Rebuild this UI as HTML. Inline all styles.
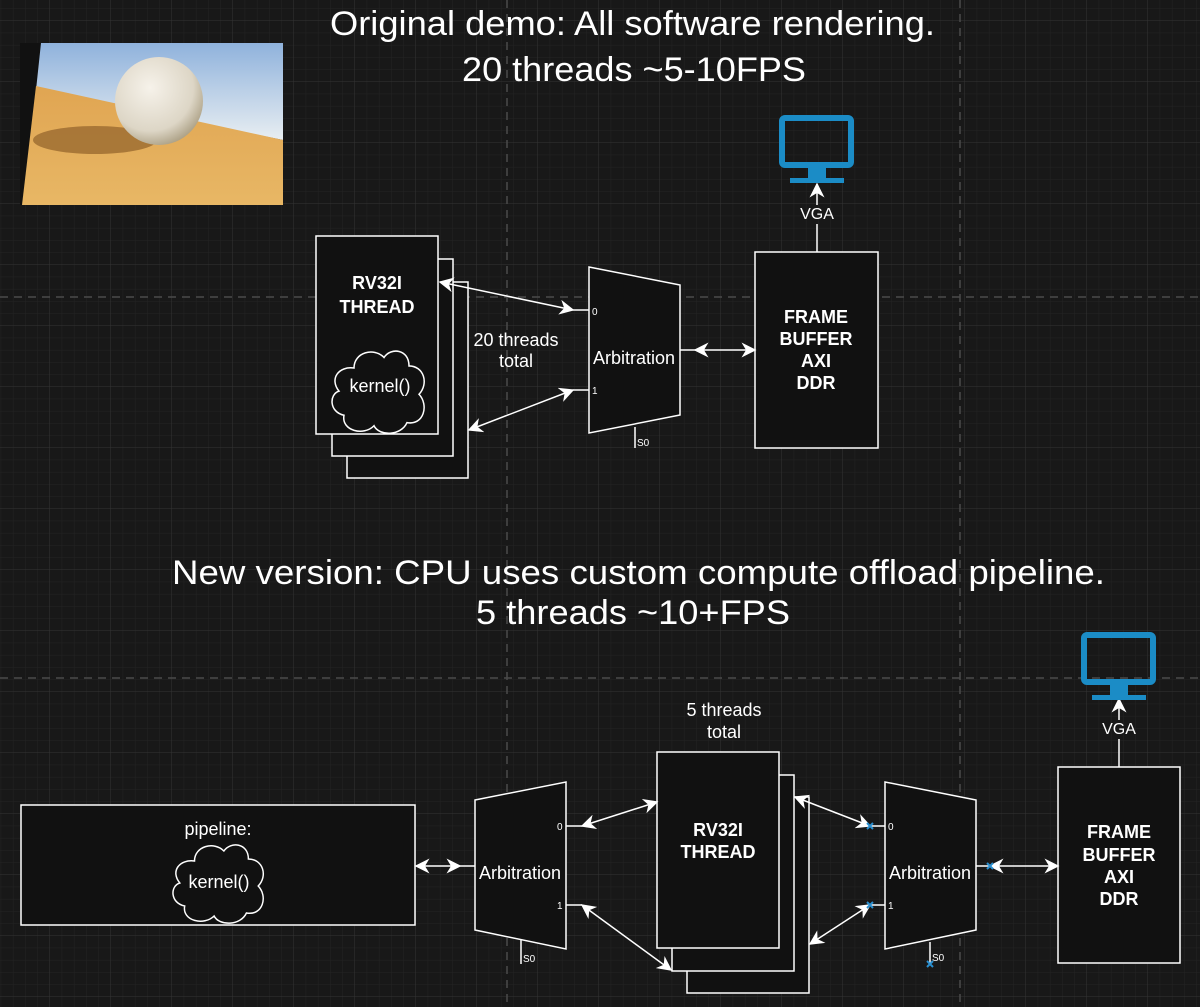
<!DOCTYPE html>
<html><head><meta charset="utf-8"><style>
html,body{margin:0;padding:0;background:#181818;}
svg{display:block;}
text{font-family:"Liberation Sans",Arial,sans-serif;fill:#fff;}
</style></head><body>
<svg width="1200" height="1007" viewBox="0 0 1200 1007" xmlns="http://www.w3.org/2000/svg">
<defs>
<pattern id="minor" width="12.2" height="12.2" patternUnits="userSpaceOnUse" x="-11" y="21">
<path d="M12.2 0V12.2H0" fill="none" stroke="#242424" stroke-width="1"/>
</pattern>
<pattern id="major" width="61" height="61" patternUnits="userSpaceOnUse" x="-11" y="21">
<path d="M61 0V61H0" fill="none" stroke="#343434" stroke-width="1"/>
</pattern>
<linearGradient id="sky" x1="0" y1="0" x2="0" y2="1"><stop offset="0" stop-color="#8fb2dc"/><stop offset="1" stop-color="#e8eef2"/></linearGradient>
<linearGradient id="sand" x1="0" y1="0" x2="0" y2="1"><stop offset="0" stop-color="#e0a552"/><stop offset="1" stop-color="#e8b765"/></linearGradient>
<radialGradient id="ball" cx="0.4" cy="0.35" r="0.7"><stop offset="0" stop-color="#f6f2ea"/><stop offset="0.7" stop-color="#ddd6c6"/><stop offset="1" stop-color="#a89c80"/></radialGradient>
<marker id="ah" viewBox="0 0 10 10" refX="9" refY="5" markerWidth="15" markerHeight="15" markerUnits="userSpaceOnUse" orient="auto-start-reverse">
<path d="M0 0L10 5L0 10L3 5z" fill="#fff"/>
</marker>
<path id="cloud" d="M25 20 C25 5 45 0 55 10 C62 0 80 2 80 18 C95 18 100 35 90 45 C100 55 95 75 78 72 C72 85 50 85 45 75 C35 85 12 80 15 65 C0 62 0 45 10 42 C0 30 10 18 25 20 Z" fill="none" stroke="#fff" stroke-width="1.5"/>
</defs>
<rect width="1200" height="1007" fill="#181818"/>
<rect width="1200" height="1007" fill="url(#minor)"/>
<rect width="1200" height="1007" fill="url(#major)"/>
<g stroke="#4a4a4a" stroke-width="1.5" stroke-dasharray="8 6">
<line x1="0" y1="297" x2="1200" y2="297"/>
<line x1="0" y1="678" x2="1200" y2="678"/>
<line x1="507" y1="0" x2="507" y2="1007"/>
<line x1="960" y1="0" x2="960" y2="1007"/>
</g>

<!-- photo -->
<rect x="20" y="43" width="263" height="162" fill="#111"/>
<polygon points="41,43 283,43 283,140 36,90" fill="url(#sky)"/>
<polygon points="36,86 283,140 283,205 22,205" fill="url(#sand)"/>
<ellipse cx="95" cy="140" rx="62" ry="14" fill="#9a6a30" opacity="0.8"/>
<circle cx="159" cy="101" r="44" fill="url(#ball)"/>

<!-- titles -->
<text x="330" y="35" font-size="34" textLength="605" lengthAdjust="spacingAndGlyphs">Original demo: All software rendering.</text>
<text x="462" y="81" font-size="34" textLength="344" lengthAdjust="spacingAndGlyphs">20 threads ~5-10FPS</text>
<text x="172" y="584" font-size="34" textLength="933" lengthAdjust="spacingAndGlyphs">New version: CPU uses custom compute offload pipeline.</text>
<text x="476" y="624" font-size="34" textLength="314" lengthAdjust="spacingAndGlyphs">5 threads ~10+FPS</text>

<g stroke="#fff" stroke-width="1.5" fill="#111">
<rect x="347" y="282" width="121" height="196"/>
<rect x="332" y="259" width="121" height="197"/>
<rect x="316" y="236" width="122" height="198"/>
<polygon points="589,267 680,285 680,415 589,433"/>
<line x1="573" y1="310" x2="589" y2="310"/>
<line x1="573" y1="390" x2="589" y2="390"/>
<line x1="635" y1="427" x2="635" y2="448"/>
<line x1="680" y1="350" x2="695" y2="350"/>
<rect x="755" y="252" width="123" height="196"/>
<line x1="817" y1="252" x2="817" y2="224"/>

<rect x="21" y="805" width="394" height="120"/>
<polygon points="475,800 566,782 566,949 475,930"/>
<line x1="460" y1="866" x2="475" y2="866"/>
<line x1="566" y1="826" x2="582" y2="826"/>
<line x1="566" y1="905" x2="582" y2="905"/>
<line x1="521" y1="940" x2="521" y2="964"/>
<rect x="687" y="797" width="122" height="196"/>
<rect x="672" y="775" width="122" height="196"/>
<rect x="657" y="752" width="122" height="196"/>
<polygon points="885,782 976,800 976,930 885,949"/>
<line x1="870" y1="826" x2="885" y2="826"/>
<line x1="870" y1="905" x2="885" y2="905"/>
<line x1="930" y1="942" x2="930" y2="964"/>
<line x1="976" y1="866" x2="990" y2="866"/>
<rect x="1058" y="767" width="122" height="196"/>
<line x1="1119" y1="767" x2="1119" y2="739"/>
</g>

<g stroke="#fff" stroke-width="1.5" fill="none">
<line x1="440" y1="282" x2="573" y2="310" marker-start="url(#ah)" marker-end="url(#ah)"/>
<line x1="469" y1="430" x2="573" y2="390" marker-start="url(#ah)" marker-end="url(#ah)"/>
<line x1="695" y1="350" x2="755" y2="350" marker-start="url(#ah)" marker-end="url(#ah)"/>
<line x1="817" y1="205" x2="817" y2="184" marker-end="url(#ah)"/>
<line x1="416" y1="866" x2="460" y2="866" marker-start="url(#ah)" marker-end="url(#ah)"/>
<line x1="582" y1="826" x2="657" y2="802" marker-start="url(#ah)" marker-end="url(#ah)"/>
<line x1="582" y1="905" x2="671" y2="970" marker-start="url(#ah)" marker-end="url(#ah)"/>
<line x1="795" y1="797" x2="870" y2="826" marker-start="url(#ah)" marker-end="url(#ah)"/>
<line x1="810" y1="944" x2="870" y2="905" marker-start="url(#ah)" marker-end="url(#ah)"/>
<line x1="990" y1="866" x2="1058" y2="866" marker-start="url(#ah)" marker-end="url(#ah)"/>
<line x1="1119" y1="720" x2="1119" y2="699" marker-end="url(#ah)"/>
</g>
<g stroke="#2a8fd0" stroke-width="2">
<path d="M867 823l6 6M873 823l-6 6"/>
<path d="M867 902l6 6M873 902l-6 6"/>
<path d="M987 863l6 6M993 863l-6 6"/>
<path d="M927 961l6 6M933 961l-6 6"/>
</g>

<g fill="none" stroke="#1b8cc6" stroke-width="6">
<rect x="782" y="118" width="69" height="47" rx="3"/>
<rect x="1084" y="635" width="69" height="47" rx="3"/>
</g>
<g fill="#1b8cc6">
<rect x="808" y="167" width="18" height="11"/><rect x="790" y="178" width="54" height="5"/>
<rect x="1110" y="684" width="18" height="11"/><rect x="1092" y="695" width="54" height="5"/>
</g>

<use href="#cloud" transform="translate(329,347) scale(1.0,1.05)"/>
<use href="#cloud" transform="translate(170,841) scale(0.98,1.0)"/>

<g font-size="18" font-weight="bold" text-anchor="middle">
<text x="377" y="289">RV32I</text><text x="377" y="313">THREAD</text>
<text x="816" y="323">FRAME</text><text x="816" y="345">BUFFER</text><text x="816" y="367">AXI</text><text x="816" y="389">DDR</text>
<text x="718" y="836">RV32I</text><text x="718" y="858">THREAD</text>
<text x="1119" y="838">FRAME</text><text x="1119" y="861">BUFFER</text><text x="1119" y="883">AXI</text><text x="1119" y="905">DDR</text>
</g>
<g font-size="18" text-anchor="middle">
<text x="380" y="392">kernel()</text>
<text x="219" y="888">kernel()</text>
<text x="218" y="835">pipeline:</text>
<text x="634" y="364">Arbitration</text>
<text x="520" y="879">Arbitration</text>
<text x="930" y="879">Arbitration</text>
<text x="516" y="346">20 threads</text><text x="516" y="367">total</text>
<text x="724" y="716">5 threads</text><text x="724" y="738">total</text>
</g>
<g font-size="16" text-anchor="middle">
<text x="817" y="219">VGA</text>
<text x="1119" y="734">VGA</text>
</g>
<g font-size="10" fill="#ccc">
<text x="592" y="315">0</text><text x="592" y="394">1</text><text x="637" y="446">S0</text>
<text x="557" y="830">0</text><text x="557" y="909">1</text><text x="523" y="962">S0</text>
<text x="888" y="830">0</text><text x="888" y="909">1</text><text x="932" y="961">S0</text>
</g>
</svg>
</body></html>
